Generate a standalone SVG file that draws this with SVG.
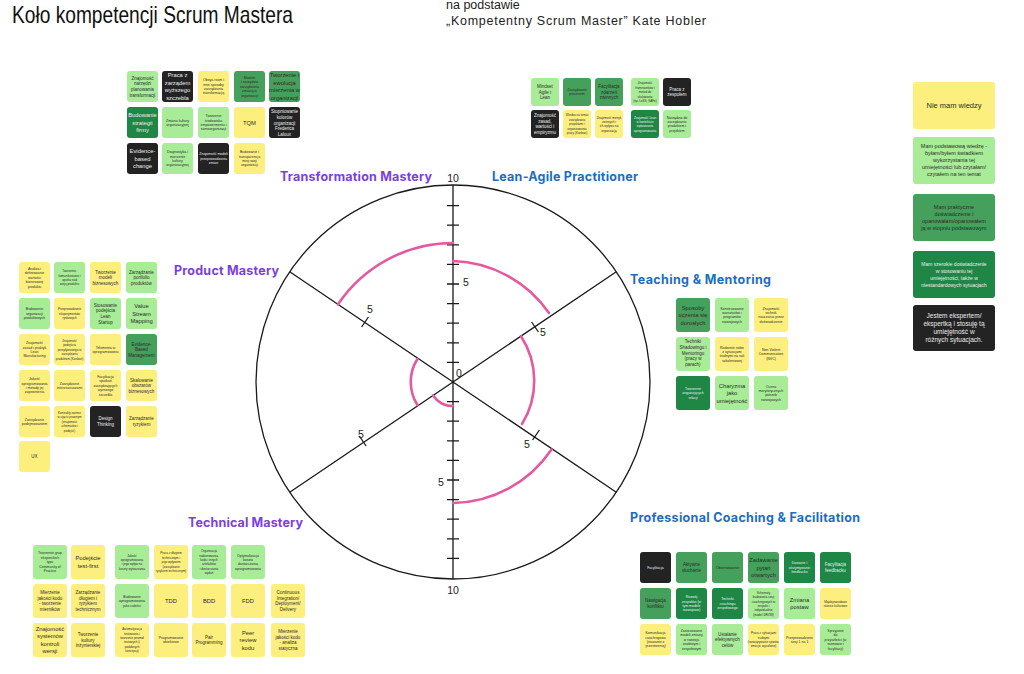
<svg xmlns="http://www.w3.org/2000/svg" width="1024" height="674" viewBox="0 0 1024 674">
<style>
text{font-family:"Liberation Sans","Inter",sans-serif}
.y{fill:#fdef7e}.lg{fill:#a8ec98}.mg{fill:#45a05c}.dg{fill:#1e8745}.bk{fill:#232323}
rect{rx:3;ry:3}
.t{fill:#2b2b2b;text-anchor:middle}.w{fill:#eeeeee;text-anchor:middle}
.s6{font-size:5.8px}.s45{font-size:4.5px}.s35{font-size:3.5px}
.ax{stroke:#1a1a1a;stroke-width:1.3;fill:none}
.arc{stroke:#e35a9f;stroke-width:2.6;fill:none;stroke-linecap:round}
.num{font-size:10.5px;fill:#222;text-anchor:middle}
.pu{fill:#7a3fe0;font-weight:700;font-size:12.5px;font-family:Inter,"Liberation Sans",sans-serif}.bl{fill:#1c6dbf;font-weight:700;font-size:12.5px;font-family:Inter,"Liberation Sans",sans-serif}
</style>
<rect x="0" y="0" width="1024" height="674" fill="#ffffff" rx="0" ry="0"/>
<text x="12" y="23" font-size="24" fill="#111" textLength="281" lengthAdjust="spacingAndGlyphs">Koło kompetencji Scrum Mastera</text>
<text x="446" y="9" font-size="12.5" fill="#222">na podstawie</text>
<text x="446" y="25" font-size="12.5" fill="#222" textLength="260">„Kompetentny Scrum Master” Kate Hobler</text>

<g id="wheel">
<circle cx="453" cy="382" r="197" class="ax" stroke-width="1.6"/>
<path class="ax" d="M453,185V579M289.7,271.8L616.3,492.2M616.3,271.8L289.7,492.2"/>
<path class="ax" d="M447,362.4h12M447,342.8h12M447,323.2h12M447,303.6h12M447,284h12M447,264.4h12M447,244.8h12M447,225.2h12M447,205.6h12M447,401.6h12M447,421.2h12M447,440.8h12M447,460.4h12M447,480h12M447,499.6h12M447,519.2h12M447,538.8h12M447,558.4h12M368.4,317L361.6,327M531.6,322L538.4,332M539.4,430L532.6,440M359.3,436L366.1,446"/>
<text class="num" x="453" y="182">10</text>
<text class="num" x="466" y="286">5</text>
<text class="num" x="459" y="377">0</text>
<text class="num" x="441" y="486">5</text>
<text class="num" x="453" y="594">10</text>
<text class="num" x="370" y="313">5</text>
<text class="num" x="543" y="336">5</text>
<text class="num" x="527" y="448">5</text>
<text class="num" x="361" y="438">5</text>
</g>
<g id="scores">
<path class="arc" d="M338,304.3A139,139 0 0 1 453,243"/>
<path class="arc" d="M453,261A121,121 0 0 1 549,313"/>
<path class="arc" d="M521,336.2A82,82 0 0 1 522,424"/>
<path class="arc" d="M551.5,449.5A121,121 0 0 1 453,503"/>
<path class="arc" d="M453,406A24,24 0 0 1 433.1,395.4"/>
<path class="arc" d="M417.4,405A43,43 0 0 1 417.4,359"/>
</g>
<g id="labels">
<text class="pu" x="280" y="181" textLength="152">Transformation Mastery</text>
<text class="bl" x="492" y="181" textLength="146">Lean-Agile Practitioner</text>
<text class="pu" x="174" y="275" textLength="105">Product Mastery</text>
<text class="bl" x="630" y="284" textLength="141">Teaching &amp; Mentoring</text>
<text class="pu" x="188" y="527" textLength="115">Technical Mastery</text>
<text class="bl" x="630" y="522" textLength="230">Professional Coaching &amp; Facilitation</text>
</g>

<g id="transformation-notes">
<rect class="lg" x="127" y="71" width="31" height="31"/><text class="t s45" y="79.7"><tspan x="142.5">Znajomość</tspan><tspan x="142.5" dy="5.6">narzędzi</tspan><tspan x="142.5" dy="5.6">planowania</tspan><tspan x="142.5" dy="5.6">transformacji</tspan></text>
<rect class="bk" x="162" y="71" width="31" height="31"/><text class="w s6" y="77.35"><tspan x="177.5">Praca z</tspan><tspan x="177.5" dy="7.5">zarządem</tspan><tspan x="177.5" dy="7.5">wyższego</tspan><tspan x="177.5" dy="7.5">szczebla</tspan></text>
<rect class="y" x="198" y="71" width="31" height="31"/><text class="t s35" y="81.1"><tspan x="213.5">Obeya room i</tspan><tspan x="213.5" dy="4.4">inne sposoby</tspan><tspan x="213.5" dy="4.4">zarządzania</tspan><tspan x="213.5" dy="4.4">transformacją</tspan></text>
<rect class="mg" x="234" y="71" width="31" height="31"/><text class="t s35" y="78.9"><tspan x="249.5">Modele</tspan><tspan x="249.5" dy="4.4">i narzędzia</tspan><tspan x="249.5" dy="4.4">zarządzania</tspan><tspan x="249.5" dy="4.4">zmianą w</tspan><tspan x="249.5" dy="4.4">organizacji</tspan></text>
<rect class="mg" x="269" y="71" width="31" height="31"/><text class="t s6" y="77.35"><tspan x="284.5">Tworzenie i</tspan><tspan x="284.5" dy="7.5">ewolucja</tspan><tspan x="284.5" dy="7.5">mierzenia w</tspan><tspan x="284.5" dy="7.5">organizacji</tspan></text>
<rect class="dg" x="127" y="107" width="31" height="31"/><text class="w s6" y="117.1"><tspan x="142.5">Budowanie</tspan><tspan x="142.5" dy="7.5">strategii</tspan><tspan x="142.5" dy="7.5">firmy</tspan></text>
<rect class="lg" x="162" y="107" width="31" height="31"/><text class="t s35" y="121.5"><tspan x="177.5">Zmiana kultury</tspan><tspan x="177.5" dy="4.4">organizacyjnej</tspan></text>
<rect class="lg" x="198" y="107" width="31" height="31"/><text class="t s35" y="117.1"><tspan x="213.5">Tworzenie</tspan><tspan x="213.5" dy="4.4">środowiska</tspan><tspan x="213.5" dy="4.4">empowermentu i</tspan><tspan x="213.5" dy="4.4">samoorganizacji</tspan></text>
<rect class="y" x="234" y="107" width="31" height="31"/><text class="t s6" x="249.5" y="124.6">TQM</text>
<rect class="bk" x="269" y="107" width="31" height="31"/><text class="w s45" y="113.3"><tspan x="284.5">Stopniowanie</tspan><tspan x="284.5" dy="5.6">kolorów</tspan><tspan x="284.5" dy="5.6">organizacji</tspan><tspan x="284.5" dy="5.6">Frederica</tspan><tspan x="284.5" dy="5.6">Laloux</tspan></text>
<rect class="bk" x="127" y="143" width="31" height="31"/><text class="w s6" y="153.1"><tspan x="142.5">Evidence-</tspan><tspan x="142.5" dy="7.5">based</tspan><tspan x="142.5" dy="7.5">change</tspan></text>
<rect class="lg" x="162" y="143" width="31" height="31"/><text class="t s35" y="153.1"><tspan x="177.5">Diagnostyka i</tspan><tspan x="177.5" dy="4.4">mierzenie</tspan><tspan x="177.5" dy="4.4">kultury</tspan><tspan x="177.5" dy="4.4">organizacyjnej</tspan></text>
<rect class="bk" x="198" y="143" width="31" height="31"/><text class="w s35" y="155.3"><tspan x="213.5">Znajomość modeli</tspan><tspan x="213.5" dy="4.4">przeprowadzania</tspan><tspan x="213.5" dy="4.4">zmian</tspan></text>
<rect class="y" x="234" y="143" width="31" height="31"/><text class="t s35" y="153.1"><tspan x="249.5">Budowanie i</tspan><tspan x="249.5" dy="4.4">transparencja</tspan><tspan x="249.5" dy="4.4">misji wizji</tspan><tspan x="249.5" dy="4.4">organizacji</tspan></text>
</g>

<g id="leanagile-notes">
<rect class="lg" x="531" y="78" width="28" height="28"/><text class="t s45" y="88"><tspan x="545">Mindset</tspan><tspan x="545" dy="5.6">Agile i</tspan><tspan x="545" dy="5.6">Lean</tspan></text>
<rect class="mg" x="563" y="78" width="28" height="28"/><text class="t s35" y="91"><tspan x="577">Zarządzanie</tspan><tspan x="577" dy="4.4">procesem</tspan></text>
<rect class="mg" x="595" y="78" width="28" height="28"/><text class="t s45" y="88"><tspan x="609">Facylitacja</tspan><tspan x="609" dy="5.6">zdarzeń</tspan><tspan x="609" dy="5.6">zwinnych</tspan></text>
<rect class="lg" x="631" y="78" width="28" height="28"/><text class="t s35" y="84.4" style="font-size:3px"><tspan x="645">Znajomość</tspan><tspan x="645" dy="4.4">frameworków i</tspan><tspan x="645" dy="4.4">metod do</tspan><tspan x="645" dy="4.4">skalowania</tspan><tspan x="645" dy="4.4">(np. LeSS, SAFe)</tspan></text>
<rect class="bk" x="663" y="78" width="28" height="28"/><text class="w s45" y="90.8"><tspan x="677">Praca z</tspan><tspan x="677" dy="5.6">zespołem</tspan></text>
<rect class="bk" x="531" y="110" width="28" height="28"/><text class="w s45" y="117.2"><tspan x="545">Znajomość</tspan><tspan x="545" dy="5.6">zasad,</tspan><tspan x="545" dy="5.6">wartości i</tspan><tspan x="545" dy="5.6">empiryzmu</tspan></text>
<rect class="y" x="563" y="110" width="28" height="28"/><text class="t s35" y="116.4" style="font-size:3px"><tspan x="577">Wiedza na temat</tspan><tspan x="577" dy="4.4">zarządzania</tspan><tspan x="577" dy="4.4">projektami i</tspan><tspan x="577" dy="4.4">organizowania</tspan><tspan x="577" dy="4.4">pracy (Kanban)</tspan></text>
<rect class="y" x="595" y="110" width="28" height="28"/><text class="t s35" y="118.6" style="font-size:3px"><tspan x="609">Znajomość metryk</tspan><tspan x="609" dy="4.4">zwinnych i</tspan><tspan x="609" dy="4.4">ich wpływu na</tspan><tspan x="609" dy="4.4">organizację</tspan></text>
<rect class="dg" x="631" y="110" width="28" height="28"/><text class="w s35" y="118.6" style="font-size:3px"><tspan x="645">Znajomość Lean</tspan><tspan x="645" dy="4.4">w kontekście</tspan><tspan x="645" dy="4.4">wytwarzania</tspan><tspan x="645" dy="4.4">oprogramowania</tspan></text>
<rect class="lg" x="663" y="110" width="28" height="28"/><text class="t s35" y="118.6"><tspan x="677">Narzędzia do</tspan><tspan x="677" dy="4.4">zarządzania</tspan><tspan x="677" dy="4.4">produktem i</tspan><tspan x="677" dy="4.4">projektem</tspan></text>
</g>

<g id="product-notes">
<rect class="y" x="19" y="262" width="31" height="31"/><text class="t s35" y="269.9"><tspan x="34.5">Analiza i</tspan><tspan x="34.5" dy="4.4">definiowanie</tspan><tspan x="34.5" dy="4.4">wartości</tspan><tspan x="34.5" dy="4.4">biznesowej</tspan><tspan x="34.5" dy="4.4">produktu</tspan></text>
<rect class="lg" x="54" y="262" width="31" height="31"/><text class="t s35" y="272.1" style="font-size:3px"><tspan x="69.5">Tworzenie,</tspan><tspan x="69.5" dy="4.4">komunikowanie i</tspan><tspan x="69.5" dy="4.4">opieka nad</tspan><tspan x="69.5" dy="4.4">wizją produktu</tspan></text>
<rect class="y" x="90" y="262" width="31" height="31"/><text class="t s45" y="273.5"><tspan x="105.5">Tworzenie</tspan><tspan x="105.5" dy="5.6">modeli</tspan><tspan x="105.5" dy="5.6">biznesowych</tspan></text>
<rect class="lg" x="126" y="262" width="31" height="31"/><text class="t s45" y="273.5"><tspan x="141.5">Zarządzanie</tspan><tspan x="141.5" dy="5.6">portfolio</tspan><tspan x="141.5" dy="5.6">produktów</tspan></text>
<rect class="lg" x="19" y="298" width="31" height="31"/><text class="t s35" y="310.3"><tspan x="34.5">Budowanie</tspan><tspan x="34.5" dy="4.4">organizacji</tspan><tspan x="34.5" dy="4.4">produktowych</tspan></text>
<rect class="y" x="54" y="298" width="31" height="31"/><text class="t s35" y="310.3" style="font-size:3px"><tspan x="69.5">Przeprowadzanie</tspan><tspan x="69.5" dy="4.4">eksperymentów</tspan><tspan x="69.5" dy="4.4">rynkowych</tspan></text>
<rect class="lg" x="90" y="298" width="31" height="31"/><text class="t s45" y="306.7"><tspan x="105.5">Stosowanie</tspan><tspan x="105.5" dy="5.6">podejścia</tspan><tspan x="105.5" dy="5.6">Lean</tspan><tspan x="105.5" dy="5.6">Startup</tspan></text>
<rect class="lg" x="126" y="298" width="31" height="31"/><text class="t s6" y="308.1"><tspan x="141.5">Value</tspan><tspan x="141.5" dy="7.5">Stream</tspan><tspan x="141.5" dy="7.5">Mapping</tspan></text>
<rect class="y" x="19" y="334" width="31" height="31"/><text class="t s35" y="344.1"><tspan x="34.5">Znajomość</tspan><tspan x="34.5" dy="4.4">zasad i praktyk</tspan><tspan x="34.5" dy="4.4">Lean</tspan><tspan x="34.5" dy="4.4">Manufacturing</tspan></text>
<rect class="y" x="54" y="334" width="31" height="31"/><text class="t s35" y="341.9" style="font-size:3px"><tspan x="69.5">Znajomość</tspan><tspan x="69.5" dy="4.4">podejścia</tspan><tspan x="69.5" dy="4.4">przepływowego w</tspan><tspan x="69.5" dy="4.4">zarządzaniu</tspan><tspan x="69.5" dy="4.4">produktem (Kanban)</tspan></text>
<rect class="y" x="90" y="334" width="31" height="31"/><text class="t s35" y="348.5"><tspan x="105.5">Telemetria w</tspan><tspan x="105.5" dy="4.4">oprogramowaniu</tspan></text>
<rect class="mg" x="126" y="334" width="31" height="31"/><text class="t s45" y="345.5"><tspan x="141.5">Evidence-</tspan><tspan x="141.5" dy="5.6">Based</tspan><tspan x="141.5" dy="5.6">Management</tspan></text>
<rect class="y" x="19" y="370" width="31" height="31"/><text class="t s35" y="380.1"><tspan x="34.5">Jakość</tspan><tspan x="34.5" dy="4.4">oprogramowania</tspan><tspan x="34.5" dy="4.4">i metody jej</tspan><tspan x="34.5" dy="4.4">zapewnienia</tspan></text>
<rect class="y" x="54" y="370" width="31" height="31"/><text class="t s35" y="384.5"><tspan x="69.5">Zarządzanie</tspan><tspan x="69.5" dy="4.4">interesariuszami</tspan></text>
<rect class="y" x="90" y="370" width="31" height="31"/><text class="t s35" y="377.9"><tspan x="105.5">Facylitacja</tspan><tspan x="105.5" dy="4.4">spotkań</tspan><tspan x="105.5" dy="4.4">zarządzających</tspan><tspan x="105.5" dy="4.4">wyższego</tspan><tspan x="105.5" dy="4.4">szczebla</tspan></text>
<rect class="y" x="126" y="370" width="31" height="31"/><text class="t s45" y="381.5"><tspan x="141.5">Skalowanie</tspan><tspan x="141.5" dy="5.6">obszarów</tspan><tspan x="141.5" dy="5.6">biznesowych</tspan></text>
<rect class="y" x="19" y="406" width="31" height="31"/><text class="t s35" y="420.5"><tspan x="34.5">Zarządzanie</tspan><tspan x="34.5" dy="4.4">podejmowaniem</tspan></text>
<rect class="y" x="54" y="406" width="31" height="31"/><text class="t s35" y="413.9" style="font-size:3px"><tspan x="69.5">Kontrakty zwinne</tspan><tspan x="69.5" dy="4.4">w ujęciu prawnym</tspan><tspan x="69.5" dy="4.4">(znajomość</tspan><tspan x="69.5" dy="4.4">schematów i</tspan><tspan x="69.5" dy="4.4">podejść)</tspan></text>
<rect class="bk" x="90" y="406" width="31" height="31"/><text class="w s45" y="420.3"><tspan x="105.5">Design</tspan><tspan x="105.5" dy="5.6">Thinking</tspan></text>
<rect class="y" x="126" y="406" width="31" height="31"/><text class="t s45" y="420.3"><tspan x="141.5">Zarządzanie</tspan><tspan x="141.5" dy="5.6">ryzykiem</tspan></text>
<rect class="y" x="19" y="441" width="31" height="31"/><text class="t s45" x="34.5" y="458.1">UX</text>
</g>

<g id="teaching-notes">
<rect class="mg" x="676" y="298" width="34" height="34"/><text class="t s6" y="309.6"><tspan x="693">Sposoby</tspan><tspan x="693" dy="7.5">uczenia się</tspan><tspan x="693" dy="7.5">dorosłych</tspan></text>
<rect class="lg" x="715" y="298" width="34" height="34"/><text class="t s35" y="309.6"><tspan x="732">Konstruowanie</tspan><tspan x="732" dy="4.4">warsztatów i</tspan><tspan x="732" dy="4.4">programów</tspan><tspan x="732" dy="4.4">rozwojowych</tspan></text>
<rect class="y" x="754" y="298" width="34" height="34"/><text class="t s35" y="309.6"><tspan x="771">Znajomość</tspan><tspan x="771" dy="4.4">technik</tspan><tspan x="771" dy="4.4">nauczania przez</tspan><tspan x="771" dy="4.4">doświadczenie</tspan></text>
<rect class="lg" x="676" y="337" width="34" height="34"/><text class="t s45" y="343.4"><tspan x="693">Techniki</tspan><tspan x="693" dy="5.6">Shadowingu i</tspan><tspan x="693" dy="5.6">Mentoringu</tspan><tspan x="693" dy="5.6">(pracy w</tspan><tspan x="693" dy="5.6">parach)</tspan></text>
<rect class="y" x="715" y="337" width="34" height="34"/><text class="t s35" y="348.6"><tspan x="732">Radzenie sobie</tspan><tspan x="732" dy="4.4">z sytuacjami</tspan><tspan x="732" dy="4.4">trudnymi na sali</tspan><tspan x="732" dy="4.4">szkoleniowej</tspan></text>
<rect class="y" x="754" y="337" width="34" height="34"/><text class="t s35" y="350.8"><tspan x="771">Non-Violent</tspan><tspan x="771" dy="4.4">Communication</tspan><tspan x="771" dy="4.4">(NVC)</tspan></text>
<rect class="dg" x="676" y="376" width="34" height="34"/><text class="w s35" y="389.8"><tspan x="693">Tworzenie</tspan><tspan x="693" dy="4.4">angażujących</tspan><tspan x="693" dy="4.4">relacji</tspan></text>
<rect class="lg" x="715" y="376" width="34" height="34"/><text class="t s6" y="387.6"><tspan x="732">Charyzma</tspan><tspan x="732" dy="7.5">jako</tspan><tspan x="732" dy="7.5">umiejętność</tspan></text>
<rect class="lg" x="754" y="376" width="34" height="34"/><text class="t s35" y="387.6"><tspan x="771">Ocena</tspan><tspan x="771" dy="4.4">merytorycznych</tspan><tspan x="771" dy="4.4">potrzeb</tspan><tspan x="771" dy="4.4">rozwojowych</tspan></text>
</g>

<g id="technical-notes">
<rect class="lg" x="33" y="545" width="34" height="34"/><text class="t s35" y="554.4"><tspan x="50">Tworzenie grup</tspan><tspan x="50" dy="4.4">eksperckich</tspan><tspan x="50" dy="4.4">typu</tspan><tspan x="50" dy="4.4">Community of</tspan><tspan x="50" dy="4.4">Practice</tspan></text>
<rect class="y" x="71" y="545" width="34" height="34"/><text class="t s6" y="560.35"><tspan x="88">Podejście</tspan><tspan x="88" dy="7.5">test-first</tspan></text>
<rect class="lg" x="115" y="545" width="34" height="34"/><text class="t s35" y="556.6" style="font-size:3px"><tspan x="132">Jakość</tspan><tspan x="132" dy="4.4">oprogramowania</tspan><tspan x="132" dy="4.4">i jego wpływ na</tspan><tspan x="132" dy="4.4">koszty wytwarzania</tspan></text>
<rect class="y" x="154" y="545" width="34" height="34"/><text class="t s35" y="554.4" style="font-size:3px"><tspan x="171">Praca z długiem</tspan><tspan x="171" dy="4.4">technicznym i</tspan><tspan x="171" dy="4.4">jego wpływem</tspan><tspan x="171" dy="4.4">(zarządzanie</tspan><tspan x="171" dy="4.4">ryzykiem technicznym)</tspan></text>
<rect class="lg" x="192" y="545" width="34" height="34"/><text class="t s35" y="552.2" style="font-size:3px"><tspan x="209">Organizacja</tspan><tspan x="209" dy="4.4">nadzorowania,</tspan><tspan x="209" dy="4.4">kodu i innych</tspan><tspan x="209" dy="4.4">artefaktów</tspan><tspan x="209" dy="4.4">i dostarczania</tspan><tspan x="209" dy="4.4">wydań</tspan></text>
<rect class="lg" x="231" y="545" width="34" height="34"/><text class="t s35" y="556.6"><tspan x="248">Optymalizacja</tspan><tspan x="248" dy="4.4">kosztu</tspan><tspan x="248" dy="4.4">dostarczania</tspan><tspan x="248" dy="4.4">oprogramowania</tspan></text>
<rect class="y" x="33" y="584" width="34" height="34"/><text class="t s45" y="594.2"><tspan x="50">Mierzenie</tspan><tspan x="50" dy="5.6">jakości kodu</tspan><tspan x="50" dy="5.6">- tworzenie</tspan><tspan x="50" dy="5.6">mierników</tspan></text>
<rect class="y" x="71" y="584" width="34" height="34"/><text class="t s45" y="594.2"><tspan x="88">Zarządzanie</tspan><tspan x="88" dy="5.6">długiem i</tspan><tspan x="88" dy="5.6">ryzykiem</tspan><tspan x="88" dy="5.6">technicznym</tspan></text>
<rect class="lg" x="115" y="584" width="34" height="34"/><text class="t s35" y="597.8"><tspan x="132">Budowanie</tspan><tspan x="132" dy="4.4">oprogramowania</tspan><tspan x="132" dy="4.4">jako całości</tspan></text>
<rect class="y" x="154" y="584" width="34" height="34"/><text class="t s6" x="171" y="603.1">TDD</text>
<rect class="y" x="192" y="584" width="34" height="34"/><text class="t s6" x="209" y="603.1">BDD</text>
<rect class="y" x="231" y="584" width="34" height="34"/><text class="t s6" x="248" y="603.1">FDD</text>
<rect class="y" x="271" y="584" width="34" height="34"/><text class="t s45" y="594.2"><tspan x="288">Continuous</tspan><tspan x="288" dy="5.6">Integration/</tspan><tspan x="288" dy="5.6">Deployment/</tspan><tspan x="288" dy="5.6">Delivery</tspan></text>
<rect class="y" x="33" y="623" width="34" height="34"/><text class="t s6" y="630.85"><tspan x="50">Znajomość</tspan><tspan x="50" dy="7.5">systemów</tspan><tspan x="50" dy="7.5">kontroli</tspan><tspan x="50" dy="7.5">wersji</tspan></text>
<rect class="y" x="71" y="623" width="34" height="34"/><text class="t s45" y="636"><tspan x="88">Tworzenie</tspan><tspan x="88" dy="5.6">kultury</tspan><tspan x="88" dy="5.6">inżynierskiej</tspan></text>
<rect class="y" x="115" y="623" width="34" height="34"/><text class="t s35" y="630.2" style="font-size:3px"><tspan x="132">Automatyzacja</tspan><tspan x="132" dy="4.4">testowania i</tspan><tspan x="132" dy="4.4">tworzenie piramid</tspan><tspan x="132" dy="4.4">testowych (i</tspan><tspan x="132" dy="4.4">podobnych</tspan><tspan x="132" dy="4.4">koncepcji)</tspan></text>
<rect class="y" x="154" y="623" width="34" height="34"/><text class="t s35" y="639"><tspan x="171">Programowanie</tspan><tspan x="171" dy="4.4">obiektowe</tspan></text>
<rect class="y" x="192" y="623" width="34" height="34"/><text class="t s45" y="638.8"><tspan x="209">Pair</tspan><tspan x="209" dy="5.6">Programming</tspan></text>
<rect class="y" x="231" y="623" width="34" height="34"/><text class="t s6" y="634.6"><tspan x="248">Peer</tspan><tspan x="248" dy="7.5">review</tspan><tspan x="248" dy="7.5">kodu</tspan></text>
<rect class="y" x="271" y="623" width="34" height="34"/><text class="t s45" y="633.2"><tspan x="288">Mierzenie</tspan><tspan x="288" dy="5.6">jakości kodu</tspan><tspan x="288" dy="5.6">- analiza</tspan><tspan x="288" dy="5.6">statyczna</tspan></text>
</g>

<g id="coaching-notes">
<rect class="bk" x="640" y="552" width="31" height="31"/><text class="w s35" x="655.5" y="568.7">Facylitacja</text>
<rect class="mg" x="676" y="552" width="31" height="31"/><text class="t s45" y="566.3"><tspan x="691.5">Aktywne</tspan><tspan x="691.5" dy="5.6">słuchanie</tspan></text>
<rect class="mg" x="712" y="552" width="31" height="31"/><text class="t s35" x="727.5" y="568.7">Obserwowanie</text>
<rect class="mg" x="748" y="552" width="31" height="31"/><text class="t s6" y="562.1"><tspan x="763.5">Zadawanie</tspan><tspan x="763.5" dy="7.5">pytań</tspan><tspan x="763.5" dy="7.5">otwartych</tspan></text>
<rect class="dg" x="784" y="552" width="31" height="31"/><text class="w s35" y="564.3"><tspan x="799.5">Dawanie i</tspan><tspan x="799.5" dy="4.4">otrzymywanie</tspan><tspan x="799.5" dy="4.4">feedbacku</tspan></text>
<rect class="dg" x="820" y="552" width="31" height="31"/><text class="w s45" y="566.3"><tspan x="835.5">Facylitacja</tspan><tspan x="835.5" dy="5.6">feedbacku</tspan></text>
<rect class="mg" x="640" y="588" width="31" height="31"/><text class="t s45" y="602.3"><tspan x="655.5">Nawigacja</tspan><tspan x="655.5" dy="5.6">konfliktu</tspan></text>
<rect class="dg" x="676" y="588" width="31" height="31"/><text class="w s35" y="598.1"><tspan x="691.5">Rozwój</tspan><tspan x="691.5" dy="4.4">zespołów (w</tspan><tspan x="691.5" dy="4.4">tym modele</tspan><tspan x="691.5" dy="4.4">rozwojowe)</tspan></text>
<rect class="dg" x="712" y="588" width="31" height="31"/><text class="w s35" y="600.3"><tspan x="727.5">Techniki</tspan><tspan x="727.5" dy="4.4">coachingu</tspan><tspan x="727.5" dy="4.4">zespołowego</tspan></text>
<rect class="lg" x="748" y="588" width="31" height="31"/><text class="t s35" y="593.7" style="font-size:3px"><tspan x="763.5">Schematy</tspan><tspan x="763.5" dy="4.4">budowania sesji</tspan><tspan x="763.5" dy="4.4">coachingowych w</tspan><tspan x="763.5" dy="4.4">zespole i</tspan><tspan x="763.5" dy="4.4">indywidualnie</tspan><tspan x="763.5" dy="4.4">(model GROW)</tspan></text>
<rect class="lg" x="784" y="588" width="31" height="31"/><text class="t s6" y="601.85"><tspan x="799.5">Zmiana</tspan><tspan x="799.5" dy="7.5">postaw</tspan></text>
<rect class="y" x="820" y="588" width="31" height="31"/><text class="t s35" y="602.5" style="font-size:3px"><tspan x="835.5">Międzynarodowe</tspan><tspan x="835.5" dy="4.4">różnice kulturowe</tspan></text>
<rect class="y" x="640" y="624" width="31" height="31"/><text class="t s35" y="634.1"><tspan x="655.5">Komunikacja</tspan><tspan x="655.5" dy="4.4">coachingowa</tspan><tspan x="655.5" dy="4.4">(stawanie z</tspan><tspan x="655.5" dy="4.4">przestrzenią)</tspan></text>
<rect class="lg" x="676" y="624" width="31" height="31"/><text class="t s35" y="631.9"><tspan x="691.5">Zastosowanie</tspan><tspan x="691.5" dy="4.4">modeli zmiany</tspan><tspan x="691.5" dy="4.4">w rozwoju</tspan><tspan x="691.5" dy="4.4">osobistym i</tspan><tspan x="691.5" dy="4.4">zespołowym</tspan></text>
<rect class="lg" x="712" y="624" width="31" height="31"/><text class="t s45" y="635.5"><tspan x="727.5">Ustalanie</tspan><tspan x="727.5" dy="5.6">efektywnych</tspan><tspan x="727.5" dy="5.6">celów</tspan></text>
<rect class="y" x="748" y="624" width="31" height="31"/><text class="t s35" y="634.1" style="font-size:3px"><tspan x="763.5">Praca z sytuacjami</tspan><tspan x="763.5" dy="4.4">trudnymi</tspan><tspan x="763.5" dy="4.4">(rozwiązywanie sporów,</tspan><tspan x="763.5" dy="4.4">emocje, wycofanie)</tspan></text>
<rect class="y" x="784" y="624" width="31" height="31"/><text class="t s35" y="638.5"><tspan x="799.5">Przeprowadzanie</tspan><tspan x="799.5" dy="4.4">sesji 1 na 1</tspan></text>
<rect class="lg" x="820" y="624" width="31" height="31"/><text class="t s35" y="631.9"><tspan x="835.5">Sprzyjanie</tspan><tspan x="835.5" dy="4.4">do</tspan><tspan x="835.5" dy="4.4">przyszłości (w</tspan><tspan x="835.5" dy="4.4">rozmowie i</tspan><tspan x="835.5" dy="4.4">facylitacji)</tspan></text>
</g>

<g id="legend">
<rect class="y" x="913" y="82" width="82" height="47"/><text class="t" x="954" y="108.3" font-size="7.5">Nie mam wiedzy</text>
<rect class="lg" x="913" y="137" width="82" height="47"/><text class="t" y="148.4" font-size="5.5"><tspan x="954">Mam podstawową wiedzę -</tspan><tspan x="954" dy="7">byłam/byłem świadkiem</tspan><tspan x="954" dy="7">wykorzystania tej</tspan><tspan x="954" dy="7">umiejętności lub czytałam/</tspan><tspan x="954" dy="7">czytałem na ten temat</tspan></text>
<rect class="mg" x="913" y="194" width="82" height="47"/><text class="t" y="208.9" font-size="5.5"><tspan x="954">Mam praktyczne</tspan><tspan x="954" dy="7">doświadczenie i</tspan><tspan x="954" dy="7">opanowałam/opanowałem</tspan><tspan x="954" dy="7">ją w stopniu podstawowym</tspan></text>
<rect class="dg" x="913" y="251" width="82" height="47"/><text class="w" y="265.8" font-size="5"><tspan x="954">Mam szerokie doświadczenie</tspan><tspan x="954" dy="7">w stosowaniu tej</tspan><tspan x="954" dy="7">umiejętności, także w</tspan><tspan x="954" dy="7">niestandardowych sytuacjach</tspan></text>
<rect class="bk" x="913" y="305" width="82" height="46"/><text class="w" y="318.3" font-size="6.5"><tspan x="954">Jestem ekspertem/</tspan><tspan x="954" dy="8">ekspertką i stosuję tą</tspan><tspan x="954" dy="8">umiejętność w</tspan><tspan x="954" dy="8">różnych sytuacjach.</tspan></text>
</g>
</svg>
